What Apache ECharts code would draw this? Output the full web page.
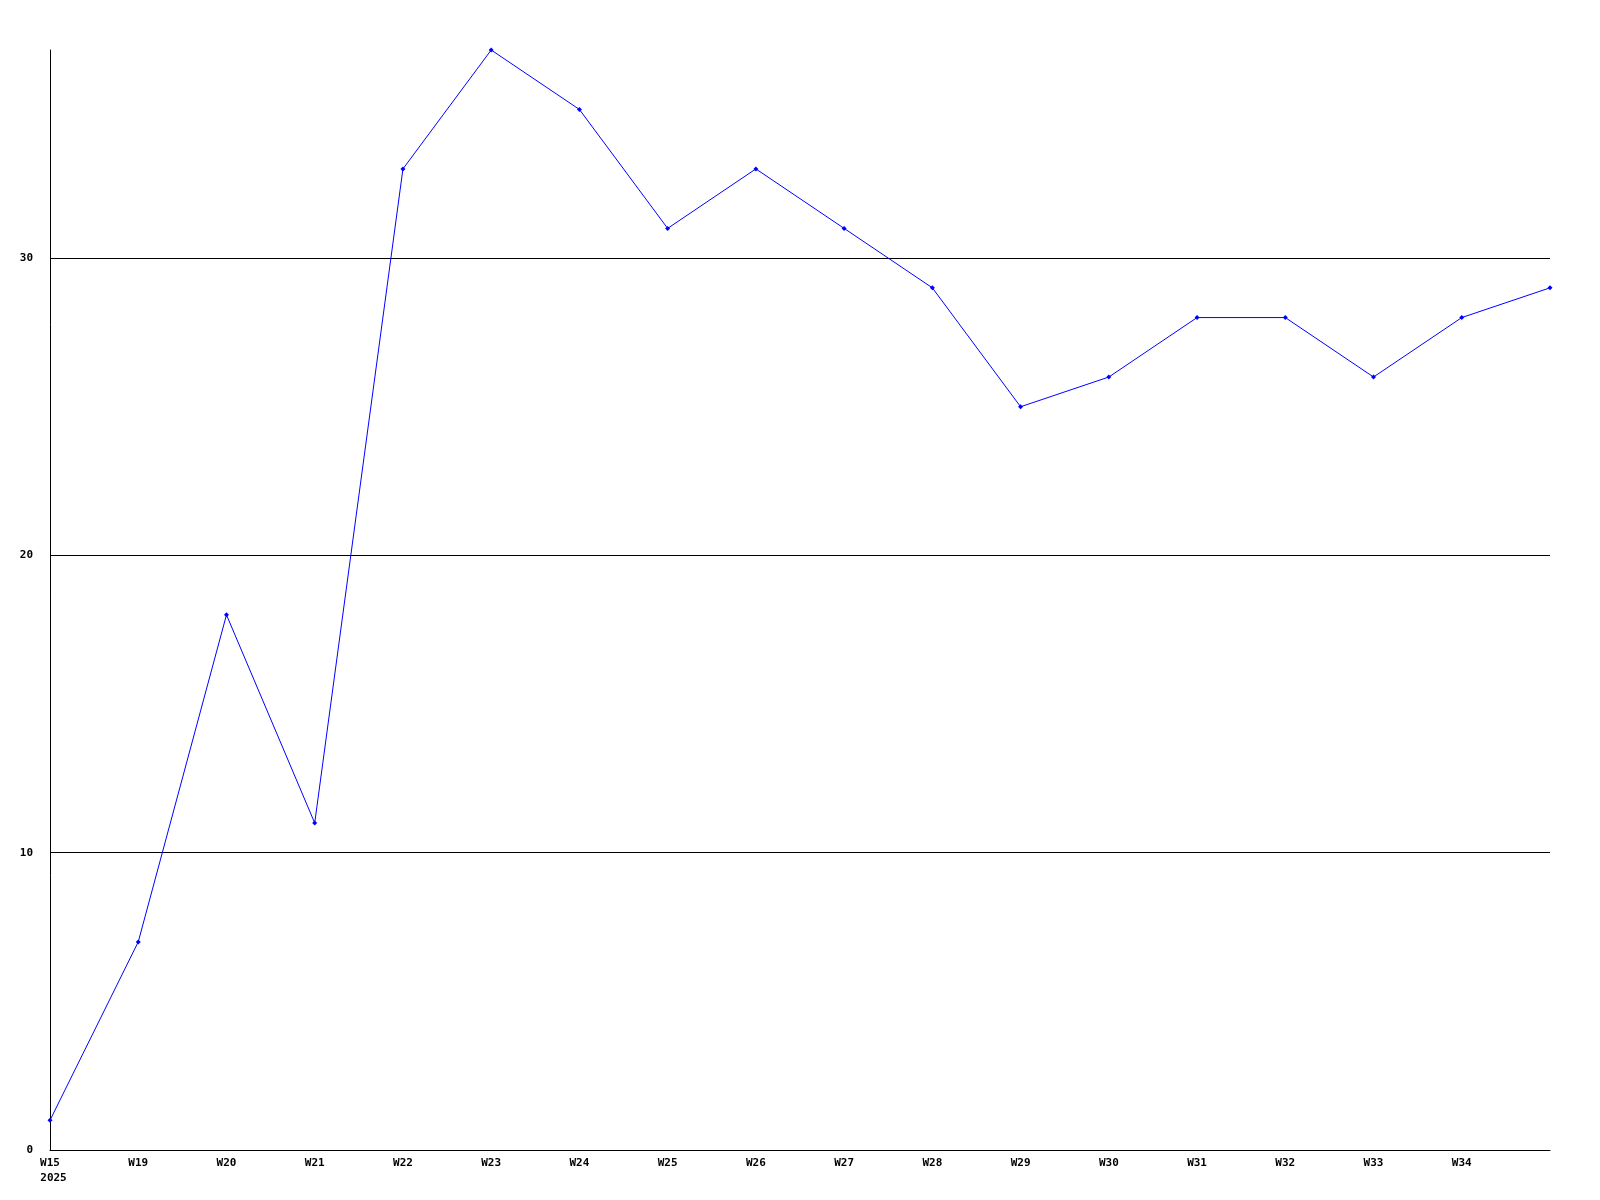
<!DOCTYPE html>
<html>
<head>
<meta charset="utf-8">
<script src="https://cdn.jsdelivr.net/npm/echarts@6/dist/echarts.min.js"></script>
<style>html,body{margin:0;padding:0;background:#fff;}#c{width:1600px;height:1200px;}</style>
</head>
<body>
<div id="c"></div>
<script>
const categories = ['W15','W19','W20','W21','W22','W23','W24','W25','W26','W27','W28','W29','W30','W31','W32','W33','W34','W35'];
const values = [1, 7, 18, 11, 33, 37, 35, 31, 33, 31, 29, 25, 26, 28, 28, 26, 28, 29];
const yTicks = [0, 10, 20, 30];
const yearLabel = '2025';

const font = {fontFamily: 'DejaVu Sans Mono', fontWeight: 'bold', fontSize: 11, color: '#000'};
const chart = echarts.init(document.getElementById('c'), null, {renderer: 'canvas'});
chart.setOption({
  animation: false,
  backgroundColor: '#fff',
  grid: {left: 50, right: 50, top: 50, bottom: 50, containLabel: false},
  xAxis: {
    type: 'category',
    data: categories,
    boundaryGap: false,
    axisLine: {lineStyle: {color: '#000', width: 1}},
    axisTick: {show: false},
    splitLine: {show: false},
    axisLabel: Object.assign({}, font, {
      interval: 0,
      margin: 6,
      lineHeight: 15,
      rich: {
        a: Object.assign({}, font, {lineHeight: 15}),
        b: Object.assign({}, font, {lineHeight: 15, padding: [0, 0, 0, 7]})
      },
      formatter: function (v, i) {
        if (i === categories.length - 1) return '';
        return i === 0 ? '{a|' + v + '}\n{b|' + yearLabel + '}' : v;
      }
    })
  },
  yAxis: {
    type: 'value',
    min: 0,
    max: 37,
    interval: 10,
    axisLine: {show: true, lineStyle: {color: '#000', width: 1}},
    axisTick: {show: false},
    splitLine: {show: true, lineStyle: {color: ['#000', '#000', '#000', '#000', 'rgba(0,0,0,0)'], width: 1}},
    axisLabel: Object.assign({}, font, {
      margin: 17,
      formatter: function (v) { return yTicks.indexOf(v) >= 0 ? String(v) : ''; }
    })
  },
  series: [{
    type: 'line',
    data: values,
    symbol: 'diamond',
    symbolSize: 5,
    showAllSymbol: true,
    lineStyle: {color: '#0000ff', width: 1},
    itemStyle: {color: '#0000ff'},
    z: 5
  }]
});
</script>
</body>
</html>
